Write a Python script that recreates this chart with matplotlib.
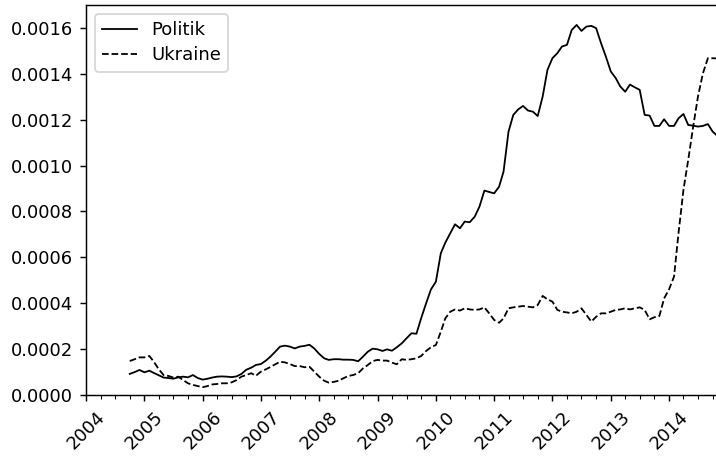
import numpy as np
import pandas as pd
import matplotlib
matplotlib.use('Agg')
import matplotlib.pyplot as plt
import matplotlib.dates as mdates

# monthly values, Oct 2004 .. Nov 2014
months = pd.date_range('2004-10-01', periods=122, freq='MS')

politik = [
    0.000092, 0.000100, 0.000109, 0.000099, 0.000106, 0.000096, 0.000086, 0.000076,
    0.000074, 0.000071, 0.000077, 0.000080, 0.000077, 0.000087, 0.000074, 0.000067,
    0.000071, 0.000076, 0.000080, 0.000081, 0.000080, 0.000078, 0.000081, 0.000092,
    0.000110, 0.000119, 0.000131, 0.000135, 0.000150, 0.000167, 0.000189, 0.000211,
    0.000215, 0.000211, 0.000203, 0.000211, 0.000214, 0.000219, 0.000203, 0.000179,
    0.000160, 0.000153, 0.000156, 0.000156, 0.000154, 0.000154, 0.000153, 0.000147,
    0.000167, 0.000189, 0.000202, 0.000199, 0.000192, 0.000199, 0.000193, 0.000208,
    0.000225, 0.000247, 0.000269, 0.000267, 0.000335, 0.000400, 0.000460, 0.000494,
    0.000618, 0.000664, 0.000705, 0.000744, 0.000727, 0.000756, 0.000753, 0.000777,
    0.000821, 0.000891, 0.000885, 0.000879, 0.000908, 0.000974, 0.001148, 0.001221,
    0.001245, 0.001260, 0.001240, 0.001235, 0.001216, 0.001301, 0.001417, 0.001468,
    0.001490, 0.001519, 0.001526, 0.001591, 0.001613, 0.001587, 0.001606, 0.001609,
    0.001599, 0.001533, 0.001475, 0.001410, 0.001381, 0.001345, 0.001322, 0.001353,
    0.001341, 0.001330, 0.001221, 0.001218, 0.001173, 0.001173, 0.001202, 0.001173,
    0.001173, 0.001206, 0.001225, 0.001177, 0.001174, 0.001170, 0.001173, 0.001181,
    0.001148, 0.001129,
]

ukraine = [
    0.000148, 0.000156, 0.000164, 0.000164, 0.000170, 0.000145, 0.000112, 0.000087,
    0.000083, 0.000076, 0.000080, 0.000065, 0.000051, 0.000044, 0.000039, 0.000034,
    0.000039, 0.000046, 0.000048, 0.000051, 0.000051, 0.000055, 0.000065, 0.000080,
    0.000087, 0.000095, 0.000084, 0.000102, 0.000112, 0.000122, 0.000134, 0.000145,
    0.000142, 0.000135, 0.000126, 0.000126, 0.000121, 0.000123, 0.000102, 0.000080,
    0.000062, 0.000054, 0.000057, 0.000062, 0.000073, 0.000083, 0.000087, 0.000095,
    0.000116, 0.000131, 0.000148, 0.000153, 0.000150, 0.000150, 0.000141, 0.000134,
    0.000156, 0.000153, 0.000156, 0.000160, 0.000170, 0.000192, 0.000208, 0.000218,
    0.000276, 0.000334, 0.000363, 0.000373, 0.000368, 0.000378, 0.000373, 0.000371,
    0.000373, 0.000382, 0.000356, 0.000327, 0.000315, 0.000334, 0.000378, 0.000382,
    0.000385, 0.000388, 0.000385, 0.000382, 0.000392, 0.000432, 0.000417, 0.000407,
    0.000371, 0.000363, 0.000360, 0.000356, 0.000363, 0.000378, 0.000349, 0.000320,
    0.000341, 0.000356, 0.000356, 0.000363, 0.000371, 0.000373, 0.000378, 0.000373,
    0.000378, 0.000382, 0.000371, 0.000330, 0.000339, 0.000344, 0.000421, 0.000461,
    0.000516, 0.000705, 0.000894, 0.001025, 0.001170, 0.001301, 0.001402, 0.001468,
    0.001468, 0.001467,
]

fig = plt.figure(figsize=(716 / 130, 456 / 130), dpi=130)
# axes run a little past the right edge of the figure, like the reference crop
x0 = pd.Timestamp('2004-01-01')
x1 = pd.Timestamp('2014-12-10')
years = (x1 - x0).days / 365.25
ax = fig.add_axes([86 / 716, 61 / 456, years * 58.3 / 716, 390 / 456])

ax.plot(months, politik, color='black', lw=1.0, label='Politik')
ax.plot(months, ukraine, color='black', lw=1.0, ls='--', label='Ukraine')

ax.set_xlim(x0, x1)
ax.set_ylim(0, 0.0017)
ax.xaxis.set_major_locator(mdates.YearLocator())
ax.xaxis.set_minor_locator(mdates.MonthLocator(bymonth=[1, 4, 7, 10]))
ax.xaxis.set_major_formatter(mdates.DateFormatter('%Y'))
plt.setp(ax.get_xticklabels(), rotation=45)

ax.legend(loc='upper left', handlelength=1.9, labelspacing=0.4)

fig.savefig('out.png', dpi=130)
